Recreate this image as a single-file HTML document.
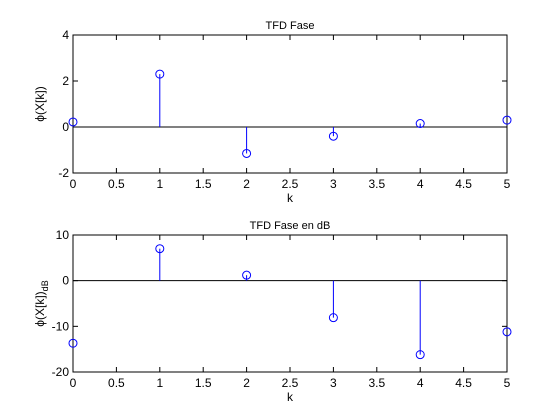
<!DOCTYPE html>
<html><head><meta charset="utf-8"><style>
body{margin:0;background:#fff}
svg{display:block;font-family:"Liberation Sans",sans-serif}
</style></head><body>
<svg id="fig" width="560" height="420" xmlns="http://www.w3.org/2000/svg"></svg>
<script>
const kValues=[0,1,2,3,4,5];
const phaseValues=[0.22,2.3,-1.15,-0.4,0.15,0.3];
const phaseDbValues=[-13.7,7.0,1.2,-8.1,-16.2,-11.2];
const xTicks=[0,0.5,1,1.5,2,2.5,3,3.5,4,4.5,5];
const yTicksTop=[-2,0,2,4];
const yTicksBottom=[-20,-10,0,10];
const NS="http://www.w3.org/2000/svg";
const svg=document.getElementById('fig');
function el(t,a,p){const e=document.createElementNS(NS,t);for(const k in a)e.setAttribute(k,a[k]);(p||svg).appendChild(e);return e;}
function panel(name,top,bottom,ymin,ymax,yt,vals,title,ylabelHtml){
  const L=73,R=507;
  const g=el('g',{});
  
  
  const xs=v=>L+(v-0)/(5-0)*(R-L);
  const ys=v=>bottom-(v-ymin)/(ymax-ymin)*(bottom-top);
  const bg=el('rect',{x:L,y:top,width:R-L,height:bottom-top,fill:'#fff'},g);
  
  
  const base=el('line',{x1:L,x2:R,y1:ys(0),y2:ys(0),stroke:'#000'},g);
  
  
  vals.forEach((v,i)=>{
    const x=xs(kValues[i]);
    const s=el('line',{x1:x,x2:x,y1:ys(0),y2:ys(v),stroke:'#0000ff'},g);
    
    
  });
  const box=el('rect',{x:L,y:top,width:R-L,height:bottom-top,fill:'none',stroke:'#000','stroke-width':1},g);
  
  
  vals.forEach((v,i)=>{
    const x=xs(kValues[i]);
    const c=el('circle',{cx:x,cy:ys(v),r:4,fill:'none',stroke:'#0000ff'},g);
    
    
  });
  xTicks.forEach(t=>{const x=xs(t);
    el('line',{x1:x,x2:x,y1:bottom,y2:bottom-5,stroke:'#000'},g);
    el('line',{x1:x,x2:x,y1:top,y2:top+5,stroke:'#000'},g);
    const tx=el('text',{x:x,y:bottom+15,'text-anchor':'middle','font-size':12},g);tx.textContent=t;
    
    
  });
  yt.forEach(t=>{const y=ys(t);
    el('line',{x1:L,x2:L+5,y1:y,y2:y,stroke:'#000'},g);
    el('line',{x1:R,x2:R-5,y1:y,y2:y,stroke:'#000'},g);
    const tx=el('text',{x:L-4,y:y+4,'text-anchor':'end','font-size':12},g);tx.textContent=t;
    
    
  });
  const ti=el('text',{x:(L+R)/2,y:top-6,'text-anchor':'middle','font-size':11},g);ti.textContent=title;
  
  
  const xl=el('text',{x:(L+R)/2,y:bottom+29,'text-anchor':'middle','font-size':12},g);xl.textContent='k';
  
  
  const yl=el('text',{transform:`translate(${L-29},${(top+bottom)/2}) rotate(-90)`,'text-anchor':'middle','font-size':12},g);
  yl.innerHTML=ylabelHtml;
  
  
}
panel('phase-panel',35,173,-2,4,yTicksTop,phaseValues,'TFD Fase','ϕ(X[k])');
panel('phase-db-panel',235,372,-20,10,yTicksBottom,phaseDbValues,'TFD Fase en dB','ϕ(X[k])<tspan font-size="9" dy="4">dB</tspan>');
</script>
</body></html>
